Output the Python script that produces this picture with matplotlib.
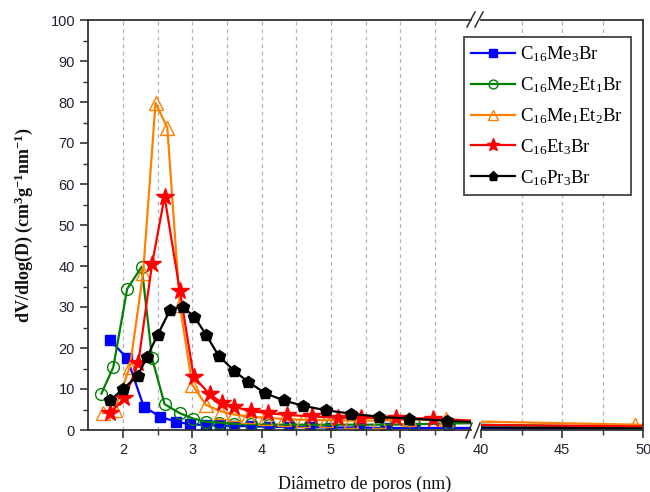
import matplotlib
matplotlib.use("Agg")
import matplotlib.pyplot as plt
from matplotlib.ticker import MultipleLocator, FixedLocator
from matplotlib.lines import Line2D

plt.rcParams['mathtext.fontset'] = 'custom'
plt.rcParams['mathtext.rm'] = 'Liberation Serif'
plt.rcParams['mathtext.it'] = 'Liberation Serif:italic'
plt.rcParams['mathtext.bf'] = 'Liberation Serif:bold'

# ---------------- data ----------------
labels = [r'C$_{16}$Me$_{3}$Br', r'C$_{16}$Me$_{2}$Et$_{1}$Br', r'C$_{16}$Me$_{1}$Et$_{2}$Br',
          r'C$_{16}$Et$_{3}$Br', r'C$_{16}$Pr$_{3}$Br']

me3_x = [1.81, 2.06, 2.30, 2.54, 2.77, 2.97, 3.20, 3.40, 3.60, 3.85, 4.10, 4.40, 4.70, 5.00, 5.40, 5.80, 6.20, 6.70, 7.40, 38.0, 52.0]
me3_y = [22.0, 17.5, 5.7, 3.2, 2.0, 1.4, 1.2, 1.1, 1.0, 0.9, 0.8, 0.7, 0.7, 0.6, 0.6, 0.5, 0.5, 0.5, 0.5, 0.4, 0.3]

me2et1_x = [1.69, 1.86, 2.06, 2.27, 2.42, 2.60, 2.82, 3.01, 3.20, 3.39, 3.60, 3.85, 4.10, 4.40, 4.70, 5.00, 5.40, 5.80, 6.20, 6.70, 7.40, 38.0, 52.0]
me2et1_y = [8.9, 15.3, 34.4, 39.8, 17.5, 6.3, 4.1, 2.8, 2.0, 1.8, 1.5, 1.4, 1.3, 1.3, 1.3, 1.3, 1.3, 1.3, 1.4, 1.6, 1.7, 1.4, 0.6]

me1et2_x = [1.71, 1.88, 2.10, 2.29, 2.47, 2.64, 2.82, 3.00, 3.20, 3.42, 3.60, 3.80, 4.05, 4.32, 4.60, 4.93, 5.29, 5.70, 6.13, 6.66, 7.40, 38.0, 49.5, 52.0]
me1et2_y = [4.1, 5.0, 15.4, 38.2, 79.8, 73.7, 30.5, 11.0, 6.1, 4.5, 3.8, 3.3, 3.0, 2.7, 2.5, 2.4, 2.3, 2.3, 2.6, 2.6, 2.0, 2.2, 1.3, 1.0]

et3_x = [1.81, 2.02, 2.22, 2.42, 2.60, 2.82, 3.02, 3.25, 3.43, 3.60, 3.84, 4.09, 4.36, 4.72, 5.10, 5.44, 5.94, 6.47, 7.40, 38.0, 52.0]
et3_y = [4.1, 7.7, 16.3, 40.5, 56.9, 34.0, 13.0, 8.7, 6.6, 5.7, 4.6, 4.1, 3.7, 3.3, 3.0, 3.0, 2.9, 2.8, 1.9, 1.3, 0.8]

pr3_x = [1.82, 2.00, 2.21, 2.35, 2.50, 2.68, 2.86, 3.03, 3.20, 3.38, 3.60, 3.80, 4.05, 4.32, 4.60, 4.93, 5.29, 5.70, 6.13, 6.68, 7.40, 38.0, 52.0]
pr3_y = [7.3, 10.0, 13.2, 17.9, 23.2, 29.3, 30.1, 27.6, 23.2, 18.1, 14.5, 11.8, 9.0, 7.2, 5.9, 4.8, 4.0, 3.2, 2.8, 2.2, 1.7, 0.7, 0.3]

series = [
    (me3_x, me3_y, dict(color='#0000ff', marker='s', markersize=7, markerfacecolor='#0000ff', markeredgecolor='#0000ff')),
    (me2et1_x, me2et1_y, dict(color='#008000', marker='o', markersize=8.5, markerfacecolor='none', markeredgecolor='#008000', markeredgewidth=1.0)),
    (me1et2_x, me1et2_y, dict(color='#ff8000', marker='^', markersize=10, markerfacecolor='none', markeredgecolor='#ff8000', markeredgewidth=1.0)),
    (et3_x, et3_y, dict(color='#ff0000', marker='*', markersize=13, markerfacecolor='#ff0000', markeredgecolor='#ff0000')),
    (pr3_x, pr3_y, dict(color='#000000', marker='p', markersize=9, markerfacecolor='#000000', markeredgecolor='#000000')),
]

# ---------------- figure ----------------
W, H = 650, 492
fig = plt.figure(figsize=(W / 100, H / 100), dpi=100)

def fx(p):
    return p / W

def fy(p):
    return 1 - p / H

bottom = fy(430)
top = fy(20)
axL = fig.add_axes([fx(88.3), bottom, fx(471) - fx(88.3), top - bottom])
axR = fig.add_axes([fx(481), bottom, fx(643.3) - fx(481), top - bottom])

spine_c = '#333333'
tick_c = '#222233'
for ax in (axL, axR):
    for x, y, st in series:
        ax.plot(x, y, linewidth=1.6, **st)
    ax.set_ylim(0, 100)
    for s in ax.spines.values():
        s.set_color(spine_c)
        s.set_linewidth(1.3)
    ax.tick_params(axis='both', which='major', direction='out', length=6, width=1.2,
                   color=spine_c, labelsize=10.5, labelcolor=tick_c)
    ax.tick_params(axis='both', which='minor', direction='out', length=3.5, width=1.0, color=spine_c)
    ax.set_axisbelow(True)

axL.set_xlim(1.5, 7.02)
axL.xaxis.set_major_locator(FixedLocator([2, 3, 4, 5, 6]))
axL.xaxis.set_minor_locator(FixedLocator([2.5, 3.5, 4.5, 5.5, 6.5]))
axL.yaxis.set_major_locator(MultipleLocator(10))
axL.yaxis.set_minor_locator(MultipleLocator(5))
axL.spines['right'].set_visible(False)
axL.tick_params(axis='y', which='both', right=False)
for v in [2, 2.5, 3, 3.5, 4, 4.5, 5, 5.5, 6, 6.5]:
    axL.axvline(v, color='#b0b0b0', linestyle=(0, (3, 3)), linewidth=0.9, zorder=0)

axR.set_xlim(40, 50)
axR.xaxis.set_major_locator(FixedLocator([40, 45, 50]))
axR.xaxis.set_minor_locator(FixedLocator([42.5, 47.5]))
axR.spines['left'].set_visible(False)
axR.tick_params(axis='y', which='both', left=False, right=False, labelleft=False)
for v in [42.5, 45, 47.5]:
    axR.axvline(v, color='#b0b0b0', linestyle=(0, (3, 3)), linewidth=0.9, zorder=0)

for ax in (axL, axR):
    for lab in ax.get_xticklabels() + ax.get_yticklabels():
        lab.set_fontfamily('Liberation Sans')

# break marks
for (x0, y0, x1, y1) in [(467, 27, 475, 12), (475, 27, 483, 12),
                         (466, 438, 472, 423), (474, 438, 480, 423)]:
    fig.add_artist(Line2D([fx(x0), fx(x1)], [fy(y0), fy(y1)], color=spine_c, linewidth=1.1))

# labels
fig.text(fx(365), fy(484), 'Diâmetro de poros (nm)', ha='center', va='center',
         fontsize=13, family='Liberation Serif', color='#111111')
fig.text(fx(24), fy(225), r'dV/dlog(D) (cm$^{\mathbf{3}}$g$^{\mathbf{-1}}$nm$^{\mathbf{-1}}$)',
         rotation=90, ha='center', va='center', fontsize=13, family='Liberation Serif',
         fontweight='bold', color='#111111')

# legend
handles = []
for (x, y, st), lab in zip(series, labels):
    hs = dict(st)
    hs['markersize'] = st['markersize'] * 0.75
    handles.append(Line2D([], [], linewidth=1.6, **hs))
leg = fig.legend(handles, labels, loc='upper left', bbox_to_anchor=(fx(464), fy(36.7)),
                 frameon=True, fancybox=False, edgecolor='#333333', framealpha=1,
                 prop={'family': 'Liberation Serif', 'size': 13.5}, handlelength=2.3,
                 handletextpad=0.3, borderpad=0.4, labelspacing=0.6, borderaxespad=0)
leg.get_frame().set_linewidth(1.2)

fig.savefig('out.png', dpi=100)
